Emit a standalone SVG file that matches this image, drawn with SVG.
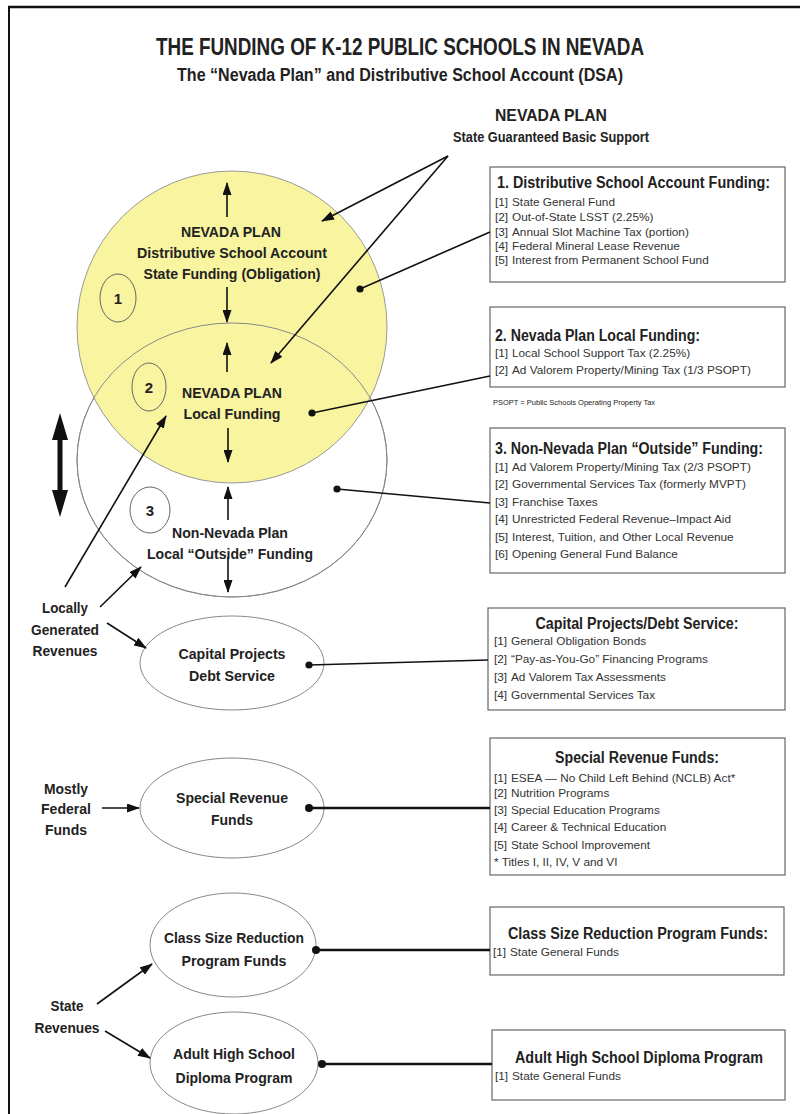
<svg xmlns="http://www.w3.org/2000/svg" width="800" height="1114" viewBox="0 0 800 1114">
<defs>
<marker id="ah" markerUnits="userSpaceOnUse" markerWidth="13" markerHeight="9" refX="12" refY="4.5" orient="auto" viewBox="0 0 13 9">
<path d="M0,0 L13,4.5 L0,9 z" fill="#111"/>
</marker>
<style>
text{font-family:"Liberation Sans",Arial,sans-serif;fill:#222}
.b{font-weight:bold}
.t14{font-size:15px;font-weight:bold;text-anchor:middle}
.bt{font-size:16px;font-weight:bold}
.it{font-size:11.8px;fill:#333}
.box{fill:#fff;stroke:#666;stroke-width:1.2}
.ell{fill:#fff;stroke:#888;stroke-width:1}
.edge{fill:none;stroke:#111;stroke-width:1.6}
.thick{fill:none;stroke:#111;stroke-width:2.6}
.arr{fill:none;stroke:#111;stroke-width:1.6;marker-end:url(#ah)}
.dot{fill:#111}
</style>
</defs>
<rect width="800" height="1114" fill="#fff"/>
<g id="frame">
<line x1="8" y1="7" x2="800" y2="7" stroke="#111" stroke-width="2.5"/>
<line x1="9" y1="6" x2="9" y2="1114" stroke="#111" stroke-width="2"/>
</g>
<g id="title">
<text x="400" y="55" class="b" font-size="23" text-anchor="middle" textLength="488" lengthAdjust="spacingAndGlyphs">THE FUNDING OF K-12 PUBLIC SCHOOLS IN NEVADA</text>
<text x="400" y="81" class="b" font-size="18" text-anchor="middle" textLength="446" lengthAdjust="spacingAndGlyphs">The “Nevada Plan” and Distributive School Account (DSA)</text>
<text x="551" y="121" class="b" font-size="17" text-anchor="middle" textLength="112" lengthAdjust="spacingAndGlyphs">NEVADA PLAN</text>
<text x="551" y="142" class="b" font-size="14" text-anchor="middle" textLength="196" lengthAdjust="spacingAndGlyphs">State Guaranteed Basic Support</text>
</g>
<g id="plan-ellipses">
<ellipse cx="232" cy="460" rx="155" ry="137" class="ell"/>
<ellipse cx="232" cy="327" rx="155" ry="156" fill="#f8f4a0" stroke="#999" stroke-width="1"/>
<ellipse cx="232" cy="460" rx="155" ry="137" fill="none" stroke="#888" stroke-width="1"/>
</g>
<g id="region1">
<ellipse cx="118" cy="298" rx="18" ry="24" fill="none" stroke="#666" stroke-width="1"/>
<text x="118" y="304" class="t14">1</text>
<text x="231" y="237" class="t14" textLength="100" lengthAdjust="spacingAndGlyphs">NEVADA PLAN</text>
<text x="232" y="258" class="t14" textLength="190" lengthAdjust="spacingAndGlyphs">Distributive School Account</text>
<text x="232" y="279" class="t14" textLength="177" lengthAdjust="spacingAndGlyphs">State Funding (Obligation)</text>
</g>
<g id="region2">
<ellipse cx="149" cy="387" rx="17" ry="24" fill="none" stroke="#666" stroke-width="1"/>
<text x="149" y="393" class="t14">2</text>
<text x="232" y="398" class="t14" textLength="100" lengthAdjust="spacingAndGlyphs">NEVADA PLAN</text>
<text x="232" y="419" class="t14" textLength="97" lengthAdjust="spacingAndGlyphs">Local Funding</text>
</g>
<g id="region3">
<ellipse cx="150" cy="510" rx="20" ry="23" fill="none" stroke="#666" stroke-width="1"/>
<text x="150" y="516" class="t14">3</text>
<text x="230" y="538" class="t14" textLength="116" lengthAdjust="spacingAndGlyphs">Non-Nevada Plan</text>
<text x="230" y="559" class="t14" textLength="166" lengthAdjust="spacingAndGlyphs">Local “Outside” Funding</text>
</g>
<g id="capital">
<ellipse cx="232" cy="663" rx="92" ry="47" class="ell"/>
<text x="232" y="659" class="t14" textLength="107" lengthAdjust="spacingAndGlyphs">Capital Projects</text>
<text x="232" y="681" class="t14" textLength="86" lengthAdjust="spacingAndGlyphs">Debt Service</text>
</g>
<g id="special">
<ellipse cx="232" cy="808" rx="92" ry="50" class="ell"/>
<text x="232" y="803" class="t14" textLength="112" lengthAdjust="spacingAndGlyphs">Special Revenue</text>
<text x="232" y="825" class="t14" textLength="42" lengthAdjust="spacingAndGlyphs">Funds</text>
</g>
<g id="classsize">
<ellipse cx="233" cy="945" rx="83" ry="52" class="ell"/>
<text x="234" y="943" class="t14" textLength="140" lengthAdjust="spacingAndGlyphs">Class Size Reduction</text>
<text x="234" y="966" class="t14" textLength="105" lengthAdjust="spacingAndGlyphs">Program Funds</text>
</g>
<g id="adult">
<ellipse cx="234" cy="1063" rx="84" ry="51" class="ell"/>
<text x="234" y="1059" class="t14" textLength="122" lengthAdjust="spacingAndGlyphs">Adult High School</text>
<text x="234" y="1083" class="t14" textLength="117" lengthAdjust="spacingAndGlyphs">Diploma Program</text>
</g>
<g id="labels">
<text x="65" y="613" class="t14" textLength="46" lengthAdjust="spacingAndGlyphs">Locally</text>
<text x="65" y="635" class="t14" textLength="68" lengthAdjust="spacingAndGlyphs">Generated</text>
<text x="65" y="656" class="t14" textLength="65" lengthAdjust="spacingAndGlyphs">Revenues</text>
<text x="66" y="794" class="t14" textLength="44" lengthAdjust="spacingAndGlyphs">Mostly</text>
<text x="66" y="814" class="t14" textLength="50" lengthAdjust="spacingAndGlyphs">Federal</text>
<text x="66" y="835" class="t14" textLength="42" lengthAdjust="spacingAndGlyphs">Funds</text>
<text x="67" y="1011" class="t14" textLength="33" lengthAdjust="spacingAndGlyphs">State</text>
<text x="67" y="1033" class="t14" textLength="65" lengthAdjust="spacingAndGlyphs">Revenues</text>
</g>
<g id="box1">
<rect x="490" y="167" width="295" height="115" class="box"/>
<text x="497" y="188" class="bt" textLength="273" lengthAdjust="spacingAndGlyphs">1. Distributive School Account Funding:</text>
<text y="206" class="it"><tspan x="495">[1]</tspan><tspan x="512">State General Fund</tspan></text>
<text y="221" class="it"><tspan x="495">[2]</tspan><tspan x="512">Out-of-State LSST (2.25%)</tspan></text>
<text y="236" class="it"><tspan x="495">[3]</tspan><tspan x="512">Annual Slot Machine Tax (portion)</tspan></text>
<text y="250" class="it"><tspan x="495">[4]</tspan><tspan x="512">Federal Mineral Lease Revenue</tspan></text>
<text y="264" class="it"><tspan x="495">[5]</tspan><tspan x="512">Interest from Permanent School Fund</tspan></text>
</g>
<g id="box2">
<rect x="490" y="307" width="295" height="80" class="box"/>
<text x="495" y="341" class="bt" textLength="205" lengthAdjust="spacingAndGlyphs">2. Nevada Plan Local Funding:</text>
<text y="357" class="it"><tspan x="495">[1]</tspan><tspan x="512">Local School Support Tax (2.25%)</tspan></text>
<text y="374" class="it"><tspan x="495">[2]</tspan><tspan x="512">Ad Valorem Property/Mining Tax (1/3 PSOPT)</tspan></text>
<text x="493" y="405" font-size="7.5">PSOPT = Public Schools Operating Property Tax</text>
</g>
<g id="box3">
<rect x="490" y="428" width="295" height="145" class="box"/>
<text x="495" y="454" class="bt" textLength="268" lengthAdjust="spacingAndGlyphs">3. Non-Nevada Plan “Outside” Funding:</text>
<text y="471" class="it"><tspan x="495">[1]</tspan><tspan x="512">Ad Valorem Property/Mining Tax (2/3 PSOPT)</tspan></text>
<text y="488" class="it"><tspan x="495">[2]</tspan><tspan x="512">Governmental Services Tax (formerly MVPT)</tspan></text>
<text y="506" class="it"><tspan x="495">[3]</tspan><tspan x="512">Franchise Taxes</tspan></text>
<text y="523" class="it"><tspan x="495">[4]</tspan><tspan x="512">Unrestricted Federal Revenue–Impact Aid</tspan></text>
<text y="541" class="it"><tspan x="495">[5]</tspan><tspan x="512">Interest, Tuition, and Other Local Revenue</tspan></text>
<text y="558" class="it"><tspan x="495">[6]</tspan><tspan x="512">Opening General Fund Balance</tspan></text>
</g>
<g id="box-capital">
<rect x="488" y="608" width="297" height="102" class="box"/>
<text x="637" y="629" class="bt" text-anchor="middle" textLength="203" lengthAdjust="spacingAndGlyphs">Capital Projects/Debt Service:</text>
<text y="645" class="it"><tspan x="494">[1]</tspan><tspan x="511">General Obligation Bonds</tspan></text>
<text y="663" class="it"><tspan x="494">[2]</tspan><tspan x="511">“Pay-as-You-Go” Financing Programs</tspan></text>
<text y="681" class="it"><tspan x="494">[3]</tspan><tspan x="511">Ad Valorem Tax Assessments</tspan></text>
<text y="699" class="it"><tspan x="494">[4]</tspan><tspan x="511">Governmental Services Tax</tspan></text>
</g>
<g id="box-special">
<rect x="490" y="738" width="295" height="137" class="box"/>
<text x="637" y="763" class="bt" text-anchor="middle" textLength="164" lengthAdjust="spacingAndGlyphs">Special Revenue Funds:</text>
<text y="782" class="it"><tspan x="494">[1]</tspan><tspan x="511">ESEA —  No Child Left Behind (NCLB) Act*</tspan></text>
<text y="797" class="it"><tspan x="494">[2]</tspan><tspan x="511">Nutrition Programs</tspan></text>
<text y="814" class="it"><tspan x="494">[3]</tspan><tspan x="511">Special Education Programs</tspan></text>
<text y="831" class="it"><tspan x="494">[4]</tspan><tspan x="511">Career &amp; Technical Education</tspan></text>
<text y="849" class="it"><tspan x="494">[5]</tspan><tspan x="511">State School Improvement</tspan></text>
<text x="494" y="866" class="it">* Titles I, II, IV, V and VI</text>
</g>
<g id="box-classsize">
<rect x="490" y="907" width="294" height="68" class="box"/>
<text x="638" y="939" class="bt" text-anchor="middle" textLength="260" lengthAdjust="spacingAndGlyphs">Class Size Reduction Program Funds:</text>
<text y="956" class="it"><tspan x="493">[1]</tspan><tspan x="510">State General Funds</tspan></text>
</g>
<g id="box-adult">
<rect x="492" y="1030" width="293" height="70" class="box"/>
<text x="639" y="1063" class="bt" text-anchor="middle" textLength="248" lengthAdjust="spacingAndGlyphs">Adult High School Diploma Program</text>
<text y="1080" class="it"><tspan x="495">[1]</tspan><tspan x="512">State General Funds</tspan></text>
</g>
<g id="connectors">
<line x1="360" y1="289" x2="490" y2="232" class="edge"/>
<circle cx="360" cy="289" r="3.6" class="dot"/>
<line x1="312" y1="413" x2="490" y2="376" class="edge"/>
<circle cx="312" cy="413" r="3.6" class="dot"/>
<line x1="337" y1="489" x2="490" y2="503" class="edge"/>
<circle cx="337" cy="489" r="3.6" class="dot"/>
<line x1="309" y1="665" x2="488" y2="660" class="edge"/>
<circle cx="309" cy="665" r="3.6" class="dot"/>
<line x1="309" y1="808" x2="490" y2="808" class="thick"/>
<circle cx="309" cy="808" r="4" class="dot"/>
<line x1="316" y1="950" x2="490" y2="950" class="thick"/>
<circle cx="316" cy="950" r="4" class="dot"/>
<line x1="322" y1="1064" x2="492" y2="1064" class="thick"/>
<circle cx="322" cy="1064" r="4" class="dot"/>
<line x1="448" y1="156" x2="322" y2="221" class="arr"/>
<line x1="448" y1="156" x2="271" y2="363" class="arr"/>
<line x1="65" y1="587" x2="166" y2="416" class="arr"/>
<line x1="100" y1="607" x2="141" y2="567" class="arr"/>
<line x1="107" y1="623" x2="146" y2="648" class="arr"/>
<line x1="102" y1="808" x2="139" y2="808" class="arr"/>
<line x1="97" y1="1004" x2="152" y2="964" class="arr"/>
<line x1="105" y1="1031" x2="150" y2="1058" class="arr"/>
<line x1="227" y1="217" x2="227" y2="183" class="arr"/>
<line x1="227" y1="287" x2="227" y2="322" class="arr"/>
<line x1="227" y1="372" x2="227" y2="343" class="arr"/>
<line x1="228" y1="428" x2="228" y2="462" class="arr"/>
<line x1="228" y1="520" x2="228" y2="487" class="arr"/>
<line x1="228" y1="557" x2="228" y2="592" class="arr"/>
<path d="M60,413 L68,440 L62.5,440 L62.5,490 L68,490 L60,517 L52,490 L57.5,490 L57.5,440 L52,440 Z" fill="#111"/>
</g>
</svg>
